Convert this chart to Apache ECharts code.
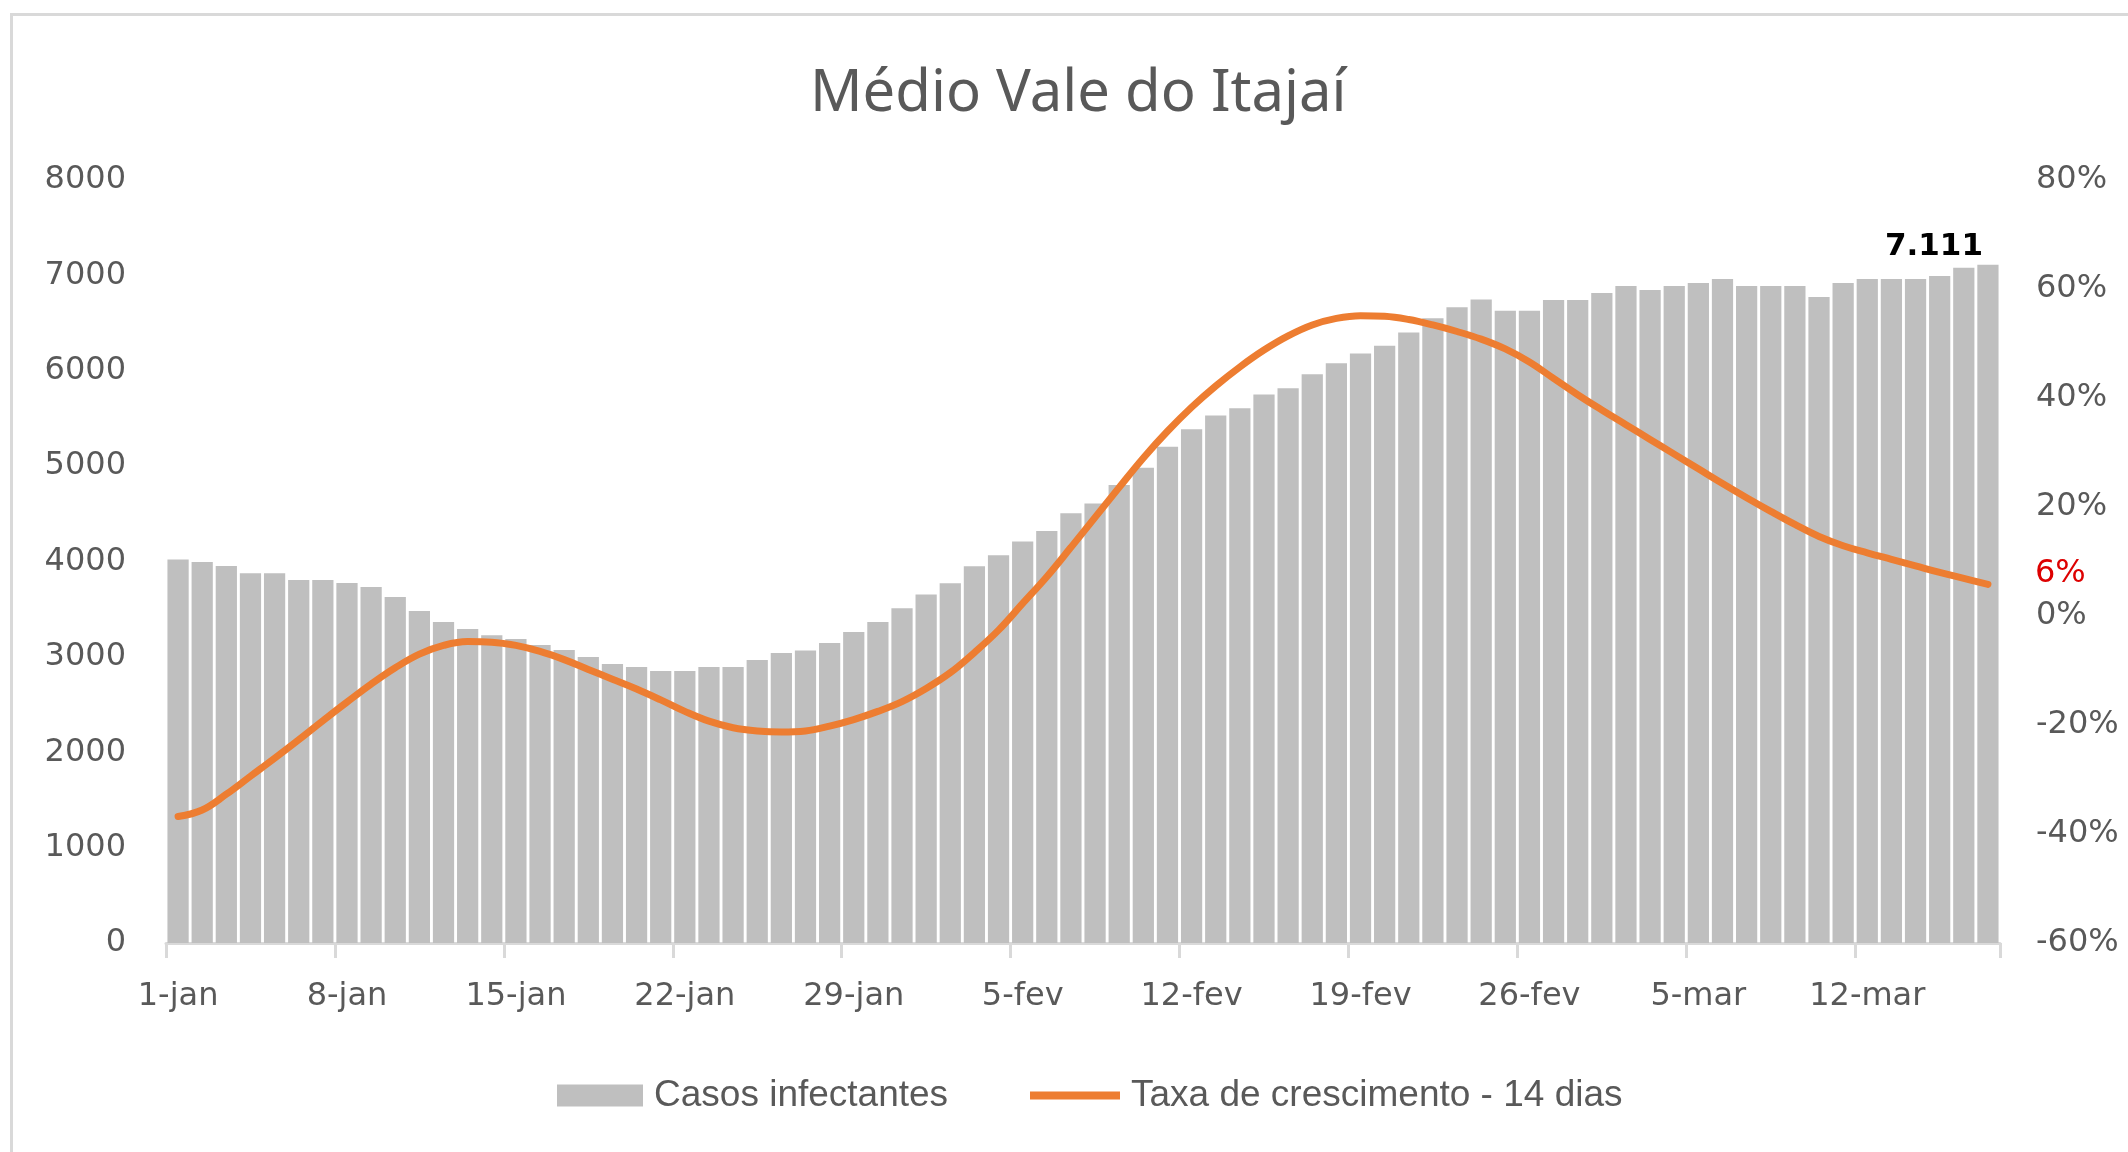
<!DOCTYPE html>
<html>
<head>
<meta charset="utf-8">
<script src="https://cdn.jsdelivr.net/npm/echarts@6/dist/echarts.min.js"></script>
<style>
html,body{margin:0;padding:0;background:#fff;}
#chart{width:2128px;height:1152px;}
</style>
</head>
<body>
<div id="chart"></div>
<script>
var titleText = 'Médio Vale do Itajaí';
var barName = 'Casos infectantes';
var lineName = 'Taxa de crescimento - 14 dias';

var categories = [
 '1-jan','2-jan','3-jan','4-jan','5-jan','6-jan','7-jan','8-jan','9-jan','10-jan',
 '11-jan','12-jan','13-jan','14-jan','15-jan','16-jan','17-jan','18-jan','19-jan','20-jan',
 '21-jan','22-jan','23-jan','24-jan','25-jan','26-jan','27-jan','28-jan','29-jan','30-jan','31-jan',
 '1-fev','2-fev','3-fev','4-fev','5-fev','6-fev','7-fev','8-fev','9-fev','10-fev',
 '11-fev','12-fev','13-fev','14-fev','15-fev','16-fev','17-fev','18-fev','19-fev','20-fev',
 '21-fev','22-fev','23-fev','24-fev','25-fev','26-fev','27-fev','28-fev',
 '1-mar','2-mar','3-mar','4-mar','5-mar','6-mar','7-mar','8-mar','9-mar','10-mar',
 '11-mar','12-mar','13-mar','14-mar','15-mar','16-mar','17-mar'
];

var casos = [
 4022,3994,3952,3878,3878,3805,3805,3774,3732,3627,
 3480,3365,3291,3228,3187,3124,3071,2998,2925,2893,
 2851,2851,2893,2893,2967,3040,3068,3145,3260,3365,3510,
 3655,3772,3949,4066,4211,4319,4506,4609,4801,4984,
 5204,5386,5531,5606,5751,5817,5962,6079,6182,6261,
 6401,6551,6667,6748,6628,6628,6743,6743,
 6816,6889,6847,6889,6920,6962,6889,6889,6889,6774,
 6920,6962,6962,6962,6993,7080,7111
];

var taxa = [
 -36.8,-35.6,-32.7,-29.4,-26.1,-22.7,-19.2,-15.8,-12.5,-9.5,
 -7.0,-5.4,-4.7,-4.8,-5.4,-6.5,-8.0,-9.8,-11.6,-13.4,
 -15.4,-17.5,-19.3,-20.5,-21.1,-21.3,-21.1,-20.2,-19.0,-17.5,-15.7,
 -13.3,-10.4,-6.7,-2.6,2.3,7.2,12.6,18.1,23.6,29.0,
 33.9,38.3,42.2,45.7,48.8,51.4,53.4,54.6,55.1,55.0,
 54.4,53.4,52.2,50.8,49.0,46.6,43.6,40.6,
 37.8,35.1,32.4,29.7,27.0,24.3,21.7,19.2,16.8,14.6,
 12.9,11.6,10.4,9.2,8.0,6.9,5.8
];

var leftTicks = {min: 0, max: 8000, interval: 1000};
var rightTicks = {min: -60, max: 80, interval: 20};

function fmtThousands(v){
  return String(v).replace(/\B(?=(\d{3})+(?!\d))/g, '.');
}

var lastIdx = casos.length - 1;
var barData = casos.map(function(v, i){
  if (i === lastIdx) {
    return {value: v, label: {show: true, position: 'top', distance: 2, offset: [-54, 0],
      formatter: function(p){ return fmtThousands(p.value); },
      color: '#000', fontWeight: 'bold', fontSize: 31, fontFamily: 'DejaVu Sans'}};
  }
  return v;
});

var axisFont = {color: '#595959', fontSize: 32, fontFamily: 'DejaVu Sans'};
var legendFont = {color: '#595959', fontSize: 37, fontFamily: 'Liberation Sans', padding: [0, 0, 0, 6]};

var chart = echarts.init(document.getElementById('chart'), null, {renderer: 'canvas'});
chart.setOption({
  animation: false,
  backgroundColor: '#ffffff',
  graphic: [{
    type: 'rect', left: 9, top: 12, shape: {width: 2300, height: 1300},
    style: {fill: 'none', stroke: '#d9d9d9', lineWidth: 3}, silent: true, z: -1
  }],
  title: {
    text: titleText, left: 805, top: 60,
    textStyle: {color: '#595959', fontSize: 58, fontWeight: 'normal', fontFamily: 'Noto Sans'}
  },
  legend: [{
    left: 552, top: 1072, itemWidth: 86, itemHeight: 22,
    textStyle: legendFont,
    data: [{name: barName, icon: 'rect'}]
  }, {
    left: 1025, top: 1072, itemWidth: 90, itemHeight: 8,
    textStyle: legendFont,
    data: [{name: lineName, icon: 'rect'}]
  }],
  grid: {left: 166, right: 128, top: 180, bottom: 209, containLabel: false},
  xAxis: {
    type: 'category', data: categories, boundaryGap: true,
    axisLine: {show: true, lineStyle: {color: '#d9d9d9', width: 3}},
    axisTick: {show: true, interval: 6, alignWithLabel: false, length: 15, lineStyle: {color: '#d9d9d9', width: 3}},
    axisLabel: Object.assign({interval: 6, margin: 38}, axisFont),
    splitLine: {show: false}
  },
  yAxis: [{
    type: 'value', min: leftTicks.min, max: leftTicks.max, interval: leftTicks.interval,
    axisLine: {show: false}, axisTick: {show: false}, splitLine: {show: false},
    axisLabel: Object.assign({margin: 40, formatter: function(v){ return String(v); }}, axisFont)
  }, {
    type: 'value', min: rightTicks.min, max: rightTicks.max, interval: rightTicks.interval,
    axisLine: {show: false}, axisTick: {show: false}, splitLine: {show: false},
    axisLabel: Object.assign({margin: 36, formatter: '{value}%'}, axisFont)
  }],
  series: [{
    name: barName, type: 'bar', data: barData, yAxisIndex: 0,
    barCategoryGap: '12%',
    itemStyle: {color: '#bfbfbf'}
  }, {
    name: lineName, type: 'line', data: taxa, yAxisIndex: 1,
    smooth: 0.4, symbol: 'none',
    lineStyle: {color: '#ed7d31', width: 7, cap: 'round'},
    itemStyle: {color: '#ed7d31'},
    endLabel: {
      show: true, distance: 47, offset: [0, -11],
      formatter: function(p){ return Math.round(p.value) + '%'; },
      color: '#dd0000', fontSize: 32, fontFamily: 'DejaVu Sans'
    },
    z: 3
  }]
});
</script>
</body>
</html>
